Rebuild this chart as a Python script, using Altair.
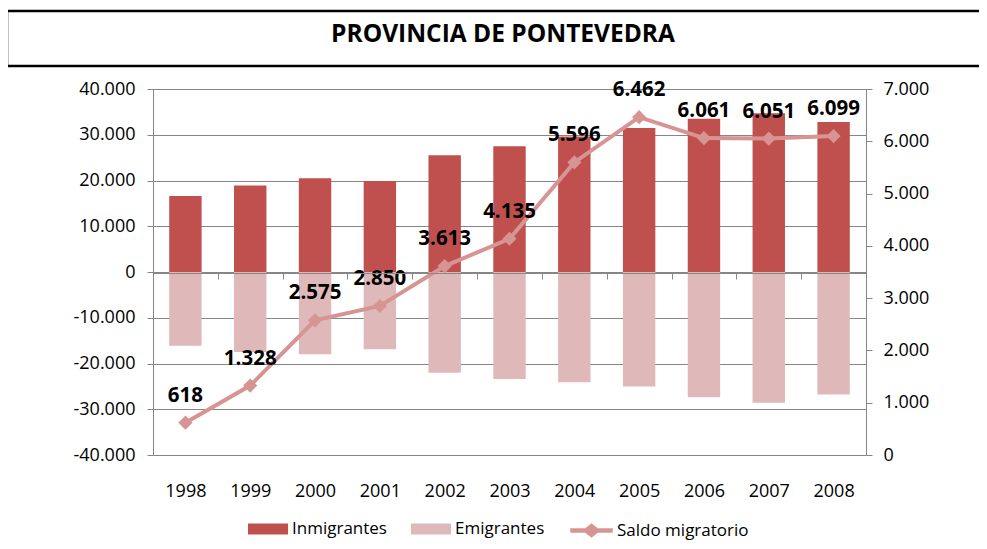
import altair as alt
import pandas as pd

# ---------------- data ----------------
years = ["1998", "1999", "2000", "2001", "2002", "2003", "2004", "2005", "2006", "2007", "2008"]
inmigrantes = [16600, 18900, 20500, 19900, 25500, 27500, 29600, 31500, 33500, 34700, 32800]
emigrantes = [16100, 17500, 18000, 16900, 22000, 23400, 24100, 25000, 27400, 28600, 26800]
saldo = [618, 1328, 2575, 2850, 3613, 4135, 5596, 6462, 6061, 6051, 6099]
bar_series = ["Inmigrantes", "Emigrantes"]
line_series = "Saldo migratorio"
chart_title = "PROVINCIA DE PONTEVEDRA"
left_ticks = [-40000, -30000, -20000, -10000, 0, 10000, 20000, 30000, 40000]
right_ticks = [0, 1000, 2000, 3000, 4000, 5000, 6000, 7000]

# ---------------- styling ----------------
C_INM = "#C0504D"
C_EMI = "#DFB9B9"
C_SAL = "#D69492"
GREY = "#868686"
FONT = "Open Sans"

bars_df = pd.DataFrame(
    {
        "year": years * 2,
        "serie": [bar_series[0]] * len(years) + [bar_series[1]] * len(years),
        "value": inmigrantes + [-v for v in emigrantes],
    }
)
line_df = pd.DataFrame({"year": years, "saldo": saldo, "serie": [line_series] * len(years)})
title_df = pd.DataFrame({"t": [chart_title]})

x_enc = alt.X(
    "year:O",
    sort=years,
    scale=alt.Scale(paddingInner=0, paddingOuter=0),
    axis=alt.Axis(
        title=None,
        orient="bottom",
        offset=-182,
        domainColor=GREY,
        domainWidth=1,
        tickColor=GREY,
        tickBand="extent",
        tickSize=6,
        labelAngle=0,
        labelPadding=203,
        labelFont=FONT,
        labelFontSize=18,
        labelColor="black",
        zindex=1,
    ),
)

thousands = "(datum.value < 0 ? '-' : '') + replace(format(abs(datum.value), ','), ',', '.')"

left_axis = alt.Axis(
    title=None,
    orient="left",
    values=left_ticks,
    labelExpr=thousands,
    grid=True,
    gridColor=GREY,
    gridWidth=1,
    domainColor=GREY,
    tickColor=GREY,
    tickSize=6,
    labelPadding=12,
    labelFont=FONT,
    labelFontSize=18,
    labelColor="black",
)
right_axis = alt.Axis(
    title=None,
    orient="right",
    values=right_ticks,
    labelExpr=thousands,
    grid=False,
    domainColor=GREY,
    tickColor=GREY,
    tickSize=6,
    labelPadding=11,
    labelFont=FONT,
    labelFontSize=18,
    labelColor="black",
)

left_scale = alt.Scale(domain=[-40000, 40000], nice=False, zero=False)
right_scale = alt.Scale(domain=[0, 7000], nice=False, zero=False)

bars = (
    alt.Chart(bars_df)
    .mark_bar(width=alt.RelativeBandSize(0.5))
    .encode(
        x=x_enc,
        y=alt.Y("value:Q", scale=left_scale, axis=left_axis, stack=None),
        color=alt.Color(
            "serie:N",
            sort=bar_series,
            scale=alt.Scale(domain=bar_series, range=[C_INM, C_EMI]),
            legend=alt.Legend(
                title=None,
                orient="none",
                direction="horizontal",
                legendX=95,
                legendY=420,
                symbolType="M-1,-0.275H1V0.275H-1Z",
                symbolSize=1600,
                symbolStrokeWidth=0,
                symbolOpacity=1,
                labelFont=FONT,
                labelFontSize=17,
                labelColor="black",
                labelOffset=4,
                columnPadding=24,
            ),
        ),
    )
)

line = (
    alt.Chart(line_df)
    .mark_line(strokeWidth=4)
    .encode(
        x=x_enc,
        y=alt.Y("saldo:Q", scale=right_scale, axis=right_axis),
        stroke=alt.Stroke(
            "serie:N",
            scale=alt.Scale(domain=[line_series], range=[C_SAL]),
            legend=alt.Legend(
                title=None,
                orient="none",
                direction="horizontal",
                legendX=417,
                legendY=420,
                symbolType="M-1,-0.09H-0.3L0,-0.33L0.3,-0.09H1V0.09H0.3L0,0.33L-0.3,0.09H-1Z",
                symbolSize=1764,
                symbolFillColor=C_SAL,
                symbolStrokeColor=C_SAL,
                symbolStrokeWidth=0.5,
                labelFont=FONT,
                labelFontSize=17,
                labelColor="black",
                labelOffset=4,
            ),
        ),
    )
)

points = (
    alt.Chart(line_df)
    .mark_point(shape="diamond", filled=True, size=200, color=C_SAL, opacity=1)
    .encode(x=x_enc, y=alt.Y("saldo:Q", scale=right_scale, axis=right_axis))
)

labels = (
    alt.Chart(line_df)
    .transform_calculate(lbl="replace(format(datum.saldo, ','), ',', '.')")
    .mark_text(font=FONT, fontWeight="bold", fontSize=20.5, color="black", baseline="middle", align="center", dy=-27)
    .encode(x=x_enc, y=alt.Y("saldo:Q", scale=right_scale, axis=right_axis), text="lbl:N")
)

title_box = (
    alt.Chart(title_df)
    .mark_rect(stroke="black", strokeWidth=2.5, fillOpacity=0)
    .encode(x=alt.value(-146), x2=alt.value(850), y=alt.value(-78), y2=alt.value(-23))
)
title_text = (
    alt.Chart(title_df)
    .mark_text(font=FONT, fontWeight="bold", fontSize=24.5, color="black", align="center", baseline="alphabetic")
    .encode(x=alt.value(350), y=alt.value(-47.3), text="t:N")
)

right = alt.layer(line, points, labels)

chart = (
    alt.layer(title_box, title_text, bars, right)
    .resolve_scale(y="independent")
    .properties(
        width=713,
        height=366,
        autosize=alt.AutoSizeParams(type="none"),
        padding={"left": 145, "top": 81, "right": 113, "bottom": 86},
    )
    .configure_view(stroke=None)
)

chart.save("out.html", embed_options={"renderer": "svg", "actions": False})
